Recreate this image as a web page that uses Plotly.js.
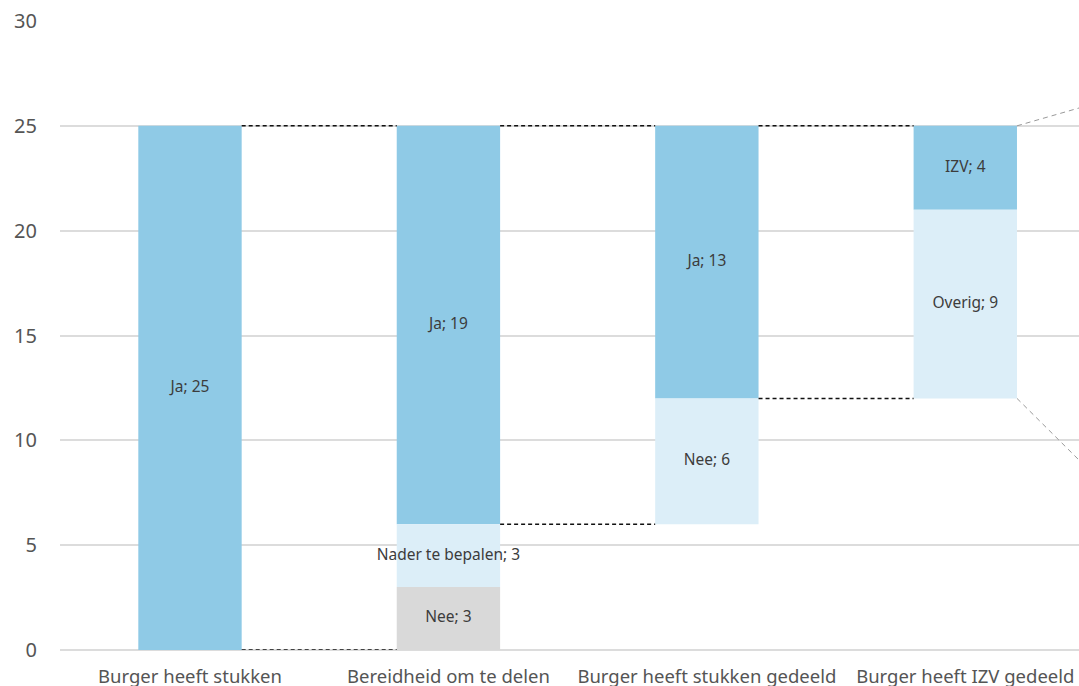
<!DOCTYPE html>
<html><head><meta charset="utf-8">
<script src="https://cdn.plot.ly/plotly-3.0.1.min.js"></script>
<style>html,body{margin:0;padding:0;background:#fff;}#chart{width:1079px;height:686px;}</style>
</head><body><div id="chart"></div>
<script>
// Data
var categories = ["Burger heeft stukken","Bereidheid om te delen","Burger heeft stukken gedeeld","Burger heeft IZV gedeeld"];
// Segments: [categoryIndex, base, value, label, kind]
var segCategory = [0, 1, 1, 1, 2, 2, 3, 3];
var segBase     = [0, 0, 3, 6, 6, 12, 12, 21];
var segValue    = [25, 3, 3, 19, 6, 13, 9, 4];
var segName     = ["Ja","Nee","Nader te bepalen","Ja","Nee","Ja","Overig","IZV"];
var segKind     = ["dark","gray","light","dark","light","dark","light","dark"];

var colors = {dark:"#8fcae6", light:"#dceef8", gray:"#d9d9d9"};
var barWidth = 0.4;
var fontFam = "Noto Sans, Open Sans, sans-serif";

var traces = [];
["dark","light","gray"].forEach(function(k){
  var x=[],y=[],b=[];
  for(var i=0;i<segCategory.length;i++){ if(segKind[i]===k){ x.push(segCategory[i]); y.push(segValue[i]); b.push(segBase[i]); } }
  traces.push({type:"bar", x:x, y:y, base:b, width:barWidth, marker:{color:colors[k], line:{width:0}}, hoverinfo:"skip", showlegend:false});
});
// labels
var lx=[],ly=[],lt=[];
for(var i=0;i<segCategory.length;i++){ lx.push(segCategory[i]); ly.push(segBase[i]+segValue[i]/2); lt.push(segName[i]+"; "+segValue[i]); }
traces.push({type:"scatter", mode:"text", x:lx, y:ly, text:lt, textposition:"middle center",
  textfont:{family:fontFam, size:15.5, color:"#3c3c3c"}, hoverinfo:"skip", showlegend:false, cliponaxis:false});

// connectors (computed from data)
var shapes=[];
function dash(x0,x1,y,color,dashStr){
  shapes.push({type:"line", xref:"x", yref:"y", x0:x0, x1:x1, y0:y, y1:y, line:{color:color||"#111", width:1.5, dash:dashStr||"4px,3px"}});
}
var hw = barWidth/2;
var total = segValue[0];
// floor line between bar 1 and 2
dash(0+hw, 1-hw, 0);
// top line across
dash(0+hw, 1-hw, total); dash(1+hw, 2-hw, total); dash(2+hw, 3-hw, total);
// "Ja" top of bar2 bottom -> bar3
dash(1+hw, 2-hw, segBase[3]);
// bar3 Ja base -> bar4
dash(2+hw, 3-hw, segBase[5]);
// gray lines leading out to the right
shapes.push({type:"line", xref:"x", yref:"y", x0:3+hw, y0:total, x1:3.44, y1:25.85, line:{color:"#999", width:1, dash:"5px,4px"}});
shapes.push({type:"line", xref:"x", yref:"y", x0:3+hw, y0:segBase[6], x1:3.44, y1:9.06, line:{color:"#999", width:1, dash:"5px,4px"}});

var layout = {
  width:1079, height:686,
  margin:{l:60, r:0, t:21, b:36},
  paper_bgcolor:"#fff", plot_bgcolor:"#fff",
  barmode:"overlay",
  showlegend:false,
  font:{family:fontFam, color:"#555"},
  xaxis:{range:[-0.503,3.44], tickvals:[0,1,2,3], ticktext:categories, showgrid:false, zeroline:false,
    showline:false, ticks:"", tickfont:{size:18.5, color:"#555"}, ticklabelstandoff:13, fixedrange:true},
  yaxis:{range:[0,30], tickvals:[0,5,10,15,20,25,30], showgrid:true, gridcolor:"#dcdcdc", gridwidth:2,
    zeroline:true, zerolinecolor:"#dcdcdc", zerolinewidth:2, showline:false, ticks:"",
    tickfont:{size:20, color:"#555"}, ticklabelstandoff:22, fixedrange:true},
  shapes:shapes
};
Plotly.newPlot("chart", traces, layout, {displayModeBar:false, staticPlot:true});
</script></body></html>
